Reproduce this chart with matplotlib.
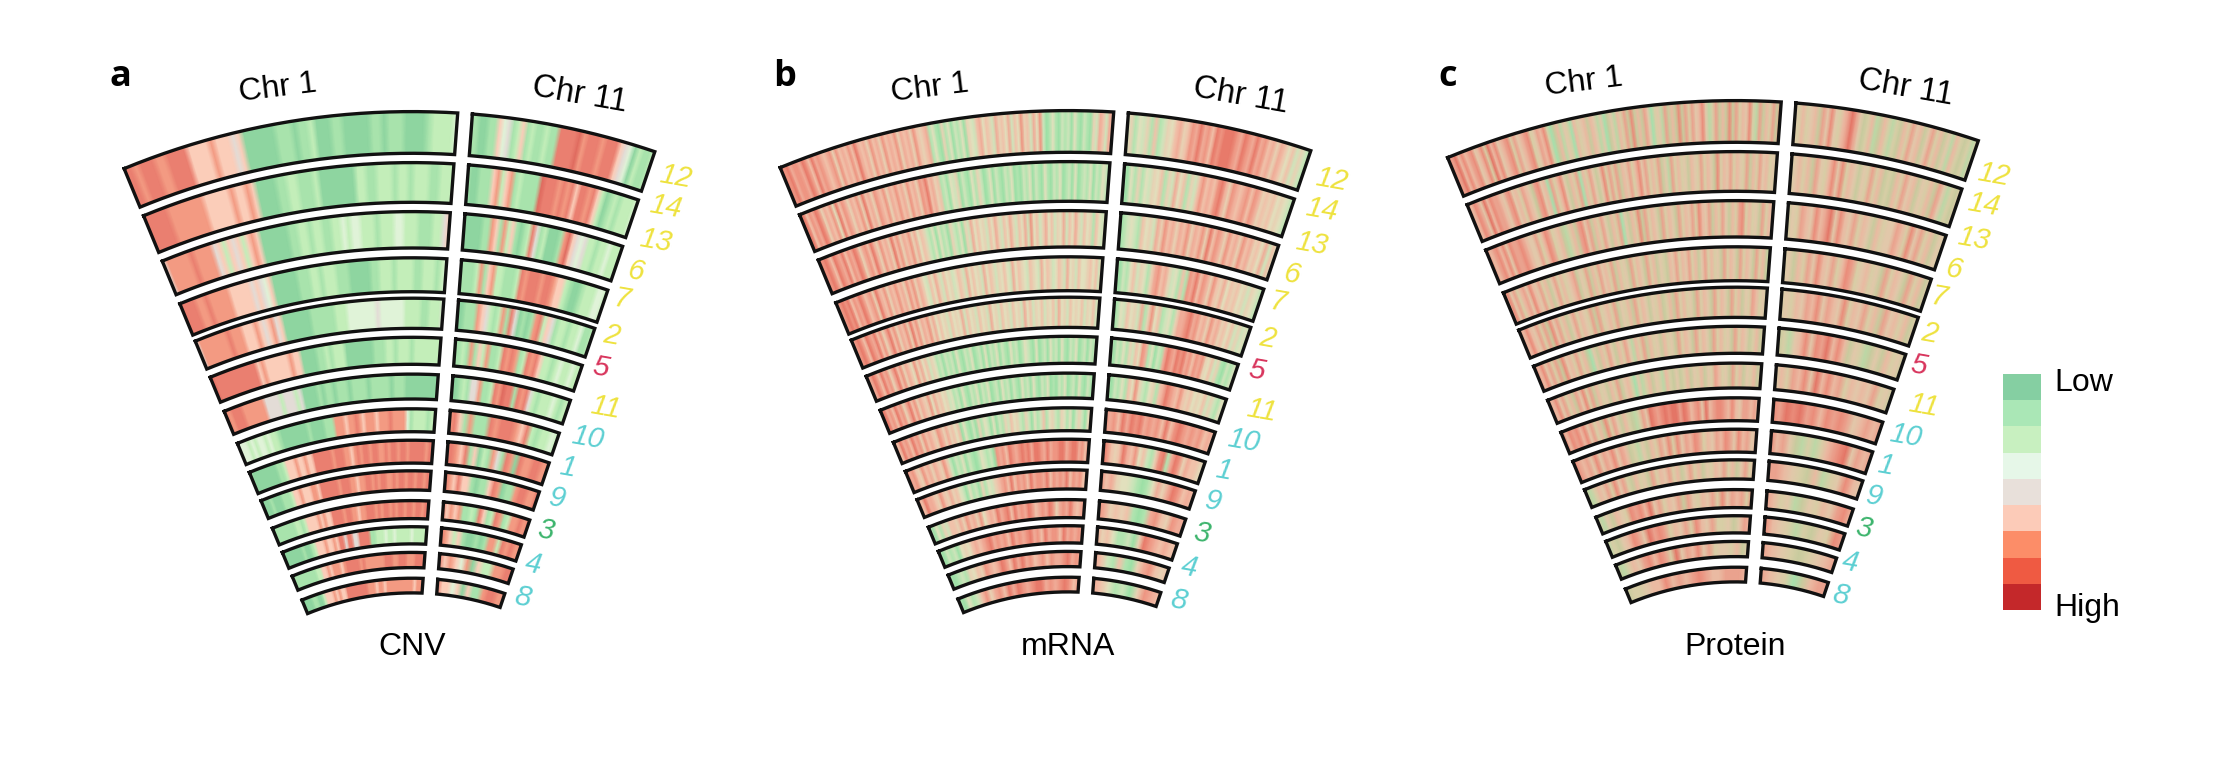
import numpy as np
import matplotlib
matplotlib.use('Agg')
import matplotlib.pyplot as plt
from matplotlib.colors import ListedColormap

# track order, outermost first
track_names = ['12', '14', '13', '6', '7', '2', '5', '11', '10', '1', '9', '3', '4', '8']
track_colors = ['#eee23e', '#eee23e', '#eee23e', '#eee23e', '#eee23e', '#eee23e', '#d8345c', '#eee23e',
                '#5ccfd2', '#5ccfd2', '#5ccfd2', '#3cb46c', '#5ccfd2', '#5ccfd2']

# one digit per stripe, read left to right: 0 = low ... 8 = high
cnv_chr1 = [
    '7767776677775555655545000000111011200011000001101110000122223',
    '777776666666555556556500001122111200000002211222122122211222',
    '4666667666645254525650000001122122112232332221222332221112245',
    '777766766666555554543500000011122122211100000112221222211222123',
    '46666666766655565456450000000111111222333333343333332222112224',
    '8777777777775655555565500001121222000000011122122212222222',
    '767776666664444244424000010110111011110111110111000000000',
    '33323233232210000000010000111666566765666566676666312222122',
    '100000000112555655655777777677766567677677667677677677777677',
    '000100011125565556657777776777665667767677667677677677677',
    '1111111122125555656557777677665667776767767677677677677',
    '000000010012555655657747744777711222322322222322222',
    '1111111112255656665677777676666666777667776667776',
    '0000110025556565577777777666566566666666665666',
]
cnv_chr11 = [
    '1100115341251211211777786777677754302112',
    '1001115625612111187776767577675201212223',
    '0000011651625101274120001685434221223222',
    '1111261562211127677767765521001222332',
    '0011165421261740101672541221223112',
    '11216152611276761276752212322322',
    '0012144611276877176742122232122',
    '6751611176777657212232',
    '77657150216417607667766',
    '7657551011576011677668',
    '7565611217512761266767',
    '7652510010166276766',
    '75653605226677',
    '75535051167766',
]
mrna_chr1 = [
    '87867768758676567475657586564756475657465647545613104130213043256354264536253745263720131021203102104265265',
    '7857687465738576465748564765746575647564768564512032402103142013021021301021302103102130120301213021320',
    '87875876857687467586475648574657463542130312042130426353425364253642536273524635243625364253415324',
    '6787857687567486574657564757465325364253423542635342635424353263543254326354235426342533453526',
    '6787587685746857465748574657463534253436253425342634253425342635243524352634253435243524',
    '7687586746857465374635243120212031021301203021302103120132103012031203102130120213',
    '7867586746857465473645342312031021302130120312021031203102130102130120310210',
    '75867586747565476464535031020413203021425342142031251342143130242035',
    '86754756465475202130210132120767587678786887686778867886758',
    '75866547546453203120413245675857675867768576768576755',
    '2031425546475647356586785867687567687467686567',
    '1021203435656786767586767867586775867676',
    '101214354765687586867567576678676',
    '103125746758687678867678757',
]
mrna_chr11 = [
    '2413241512435645768675878887687686756465352421',
    '1031413243514263514257565786476567576454534321',
    '0123215342647564657465748576475647564536252',
    '1021352431467564231517685764754635453424321',
    '0132534261473512314667867564756453524231',
    '20213142537613021687687867576743524102123',
    '10213153742134156876575453435242132',
    '76758687867675857876767565',
    '87545865735214781687465543',
    '7564332101364687565',
    '7645451016754766',
    '6453112048765655',
    '6521510467545',
    '6531204765',
]
protein_chr1 = [
    '7685756745738574567364567346573025143053452541402415362725264034162527263645741362527263547316253627',
    '657648576654674536542674506357425360536424736362546357463536241635342543635427354635436253645342',
    '756757476676544635763452135267462536425360425372635426354263546375462536425367353426354',
    '574635647546352463534562436253645362534263542635243254635463524635342635426354263521',
    '6575463627463524635436263453624352635424352352635342635426354263524365342',
    '757463627453635204253642536415362534253426354263542635342635423524',
    '65746352647362534253624530413524315324235243524365342635243524',
    '857675746352736425321364876787886875674856776575466564',
    '7656474657465231425364737465763546576475645',
    '21354637463253426354635246352435463524635',
    '314254376758463546264354637465637',
    '1324576486763546375463342465',
    '2135467576384657463443524',
    '2334557565676556665',
]
protein_chr11 = [
    '4353452647435686423512531325364524635241532314',
    '34535264357473542436352325364524352641324',
    '2436547568475463542534465374635243',
    '3425364754635763453426354263524',
    '343546574654735463526453524',
    '231457476857524312425342',
    '353657485756354546342',
    '76878675767645656',
    '75642131356784656',
    '6654325134754',
    '6534124354675',
    '75431324376',
    '654323456',
    '654302566',
]

legend_colors = ['#85cfa2', '#aae7b6', '#c8f0c0', '#e6f7e8', '#e8e0da', '#fccbb8', '#fc8d68', '#ef5a42', '#c4282a']
cnv_colors = ['#8ed5a0', '#a8e3ac', '#c3eeb9', '#e0f3d8', '#e3dcd6', '#fbcdb9', '#f39a82', '#ea7f70', '#e06b5f']
mrna_colors = ['#9ce0a6', '#b2e4b0', '#cfe4bb', '#e2e0bd', '#e8d2b4', '#f0c2aa', '#f0ac98', '#ee9582', '#e87a6a']
protein_colors = ['#a6e0ac', '#bcd8a6', '#c8cb9e', '#d8cea6', '#e2c8aa', '#eabaa2', '#eaa28e', '#ea8c7a', '#e47566']

# track radii in pixels
r_out = [756.6, 705.6, 656.6, 610.4, 570, 530.9, 494.1, 459.4, 428, 397.4, 367.6, 341.5, 315.8, 290]
r_in = [712.5, 663.5, 617.8, 574.1, 537.4, 501.5, 466.8, 434.1, 402.7, 375.8, 347.2, 321.9, 298.2, 272.9]

W, H = 2222, 758
R = 800
LEFT = np.radians(-22.4)
RIGHT = np.radians(18.75)
SPLIT = 0.0742
GAP_L = 10.3
GAP_R = 4.4
INSET = 1.2

label_dx = [264, 254, 244, 224, 210, 200, 189, 194, 176, 156, 145, 134, 121, 111]
label_dy = [-690, -660, -626, -595, -567, -531, -499, -459, -429, -399, -368, -336, -302, -269]

plt.rcParams['font.family'] = ['Liberation Sans', 'DejaVu Sans']
fig = plt.figure(figsize=(W / 100, H / 100), dpi=100, facecolor='white')


def put_text(x, y, s, **kw):
    fig.text(x / W, 1 - y / H, s, ha='center', va='center', **kw)


def draw_block(ax, rows, cmap, t0, t1):
    # t0 and t1 give the angle of a block edge for a radius
    for i, row in enumerate(rows):
        ro, ri = r_out[i] - INSET, r_in[i] + INSET
        vals = np.array([int(c) for c in row])
        n = len(vals)
        f = np.linspace(0, 1, n)
        th = np.vstack([t0(ri) + f * (t1(ri) - t0(ri)), t0(ro) + f * (t1(ro) - t0(ro))])
        rr = np.vstack([np.full(n, ri), np.full(n, ro)])
        ax.pcolormesh(th, rr, np.vstack([vals, vals]), cmap=cmap, vmin=-0.5, vmax=8.5, shading='gouraud')
        top = np.linspace(t0(ro), t1(ro), 120)
        bot = np.linspace(t1(ri), t0(ri), 120)
        ax.plot(np.r_[top, bot, top[0]], np.r_[np.full(120, ro), np.full(120, ri), ro],
                color='#111111', lw=2.4, solid_joinstyle='miter')


def draw_panel(cx, cy, chr1, chr11, colors):
    ax = fig.add_axes([(cx - R) / W, 1 - (cy + R) / H, 2 * R / W, 2 * R / H], projection='polar')
    ax.set_theta_zero_location('N')
    ax.set_theta_direction(-1)
    ax.set_autoscale_on(False)
    ax.set_ylim(0, R)
    ax.set_axis_off()
    ax.patch.set_alpha(0)
    cmap = ListedColormap(colors)
    draw_block(ax, chr1, cmap, lambda r: LEFT, lambda r: SPLIT - GAP_L / r)
    draw_block(ax, chr11, cmap, lambda r: SPLIT + GAP_R / r, lambda r: RIGHT)
    return ax


panels = [
    (412, 867, cnv_chr1, cnv_chr11, cnv_colors, 'a', 120, 'CNV', (278, 88), (580, 95), 0, 0),
    (1068, 866, mrna_chr1, mrna_chr11, mrna_colors, 'b', 785, 'mRNA', (930, 88), (1241, 96), 0, 4),
    (1735.5, 856, protein_chr1, protein_chr11, protein_colors, 'c', 1448, 'Protein', (1584, 82), (1906, 88), -6, 9),
]

for cx, cy, c1, c11, cols, letter, lx, name, p1, p11, xshift, yshift in panels:
    draw_panel(cx, cy, c1, c11, cols)
    put_text(lx, 77, letter, fontsize=26, fontweight='bold', family=['Open Sans', 'DejaVu Sans'])
    put_text(cx, 647, name, fontsize=23)
    put_text(p1[0], p1[1], 'Chr 1', fontsize=23, rotation=7)
    put_text(p11[0], p11[1], 'Chr 11', fontsize=23.5, rotation=-10)
    for name_i, col, dx, dy in zip(track_names, track_colors, label_dx, label_dy):
        put_text(cx + dx + xshift, cy + dy + yshift, name_i, fontsize=21, color=col, style='italic', rotation=-10)

# colour key
key = fig.add_axes([2003 / W, 1 - 610 / H, 38 / W, 236 / H])
key.pcolormesh(np.arange(8, -1, -1)[:, None], cmap=ListedColormap(legend_colors), vmin=-0.5, vmax=8.5)
key.set_axis_off()
fig.text(2054 / W, 1 - 383 / H, 'Low', fontsize=23, ha='left', va='center')
fig.text(2054 / W, 1 - 608 / H, 'High', fontsize=23, ha='left', va='center')

fig.savefig('out.png', dpi=100)
plt.close(fig)
